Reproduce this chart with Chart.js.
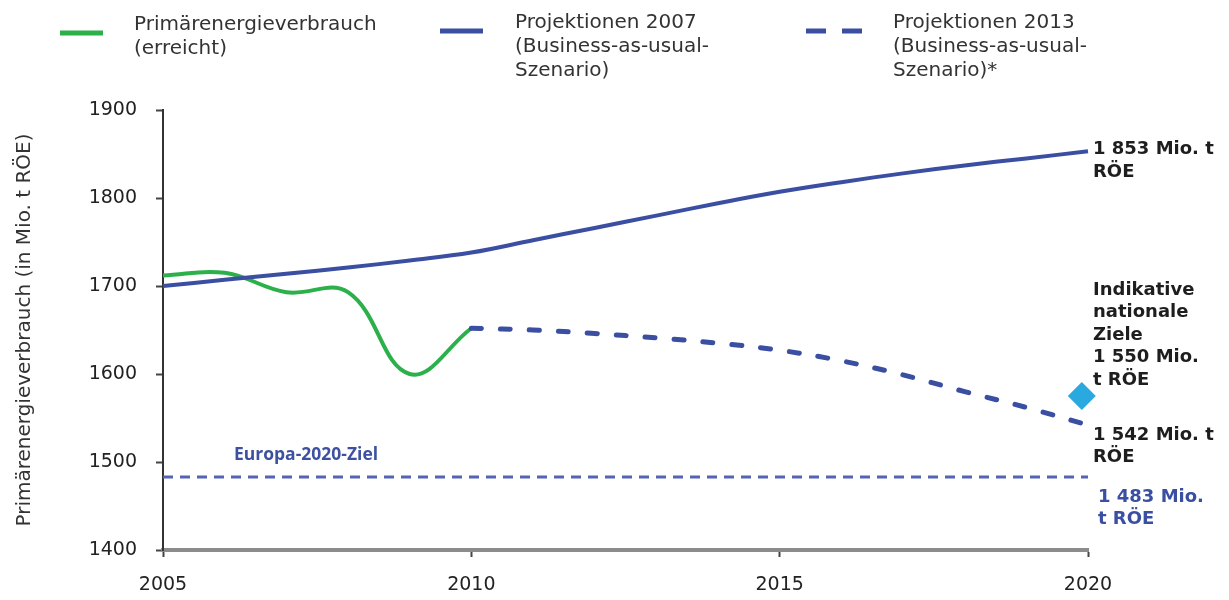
<!DOCTYPE html>
<html><head><meta charset="utf-8">
<script src="https://cdn.jsdelivr.net/npm/chart.js@4.4.1/dist/chart.umd.min.js"></script>
<style>html,body{margin:0;padding:0;background:#fff;} #wrap{width:1229px;height:600px;position:relative;}</style>
</head><body><div id="wrap"><canvas id="c" width="1229" height="600"></canvas></div>
<script>
// ---- data ----
const consumptionYears = [2005, 2006, 2007, 2008, 2009, 2010];
const consumption = [1712, 1715, 1693, 1693, 1600, 1652];
const projection2007Years = [2005, 2006, 2007, 2008, 2009, 2010, 2011, 2012, 2013, 2014, 2015, 2016, 2017, 2018, 2019, 2020];
const projection2007 = [1700, 1707, 1714, 1721, 1729, 1738, 1752, 1766, 1780, 1794, 1807, 1818, 1828, 1837, 1845, 1853];
const projection2013Years = [2010, 2011, 2012, 2013, 2014, 2015, 2016, 2017, 2018, 2019, 2020];
const projection2013 = [1652, 1650, 1646, 1641, 1635, 1627, 1615, 1599, 1580, 1562, 1542];
const europeTargetYears = [2005, 2020];
const europeTarget = [1483, 1483];
const nationalTargetYears = [2019.9];
const nationalTarget = [1575];
const xTicks = [2005, 2010, 2015, 2020];
const yTicks = [1400, 1500, 1600, 1700, 1800, 1900];

const legendItems = [
  ['Primärenergieverbrauch', '(erreicht)'],
  ['Projektionen 2007', '(Business-as-usual-', 'Szenario)'],
  ['Projektionen 2013', '(Business-as-usual-', 'Szenario)*']
];
const yTitle = 'Primärenergieverbrauch (in Mio. t RÖE)';
const europeLabel = 'Europa-2020-Ziel';
const labelBau2007 = ['1 853 Mio. t', 'RÖE'];
const labelNational = ['Indikative', 'nationale', 'Ziele', '1 550 Mio.', 't RÖE'];
const labelBau2013 = ['1 542 Mio. t', 'RÖE'];
const labelEurope = ['1 483 Mio.', 't RÖE'];

const GREEN = '#2bb04a', BLUE = '#3a4ea2', LBLUE = '#5563b6', DIAMOND = '#2aa9e0';
const pts = (xs, ys) => xs.map((x, i) => ({x: x, y: ys[i]}));

const annot = {
  id: 'annot',
  afterDatasetsDraw(chart) {
    const ctx = chart.ctx, xs = chart.scales.x, ys = chart.scales.y;
    ctx.save();
    ctx.textBaseline = 'middle';
    ctx.textAlign = 'left';
    // legend
    ctx.lineWidth = 5;
    ctx.strokeStyle = GREEN;
    ctx.beginPath(); ctx.moveTo(60, 33); ctx.lineTo(103, 33); ctx.stroke();
    ctx.strokeStyle = BLUE;
    ctx.beginPath(); ctx.moveTo(440, 31); ctx.lineTo(483, 31); ctx.stroke();
    ctx.beginPath(); ctx.moveTo(806, 31); ctx.lineTo(826, 31); ctx.moveTo(842, 31); ctx.lineTo(862, 31); ctx.stroke();
    ctx.fillStyle = '#333';
    ctx.font = '20px "DejaVu Sans"';
    const lx = [134, 515, 893], ly = [25, 23, 23];
    legendItems.forEach((lines, k) => lines.forEach((t, j) => ctx.fillText(t, lx[k], ly[k] + j * 24)));
    // end labels
    const x0 = xs.getPixelForValue(2020) + 5;
    ctx.font = 'bold 18px "DejaVu Sans"';
    ctx.fillStyle = '#1e1e1e';
    const block = (lines, y, x) => lines.forEach((t, j) => ctx.fillText(t, x, y + j * 22.5));
    block(labelBau2007, ys.getPixelForValue(projection2007[projection2007.length - 1]) - 2, x0);
    block(labelNational, ys.getPixelForValue(nationalTarget[0]) - 106, x0);
    block(labelBau2013, ys.getPixelForValue(projection2013[projection2013.length - 1]) + 10, x0);
    ctx.fillStyle = '#3a4ea2';
    block(labelEurope, ys.getPixelForValue(europeTarget[0]) + 20, x0 + 5);
    // Europa label
    ctx.font = 'bold 17.5px "Open Sans"';
    ctx.fillStyle = '#3d51a0';
    ctx.fillText(europeLabel, xs.getPixelForValue(2006.15), ys.getPixelForValue(europeTarget[0]) - 22);
    ctx.restore();
  }
};

new Chart(document.getElementById('c'), {
  type: 'line',
  data: {
    datasets: [
      {data: pts(europeTargetYears, europeTarget), borderColor: LBLUE, borderWidth: 3, borderDash: [10, 7], pointRadius: 0, tension: 0},
      {data: pts(projection2013Years, projection2013), borderColor: BLUE, borderWidth: 5, borderDash: [10, 19], borderCapStyle: 'round', pointRadius: 0, tension: 0.4},
      {data: pts(projection2007Years, projection2007), borderColor: BLUE, borderWidth: 4, pointRadius: 0, tension: 0.4},
      {data: pts(consumptionYears, consumption), borderColor: GREEN, borderWidth: 4, pointRadius: 0, tension: 0.4},
      {data: pts(nationalTargetYears, nationalTarget), showLine: false, pointStyle: 'rectRot', pointRadius: 14, pointBackgroundColor: DIAMOND, pointBorderWidth: 0, pointBorderColor: DIAMOND}
    ]
  },
  options: {
    responsive: false,
    animation: false,
    devicePixelRatio: 1,
    layout: {padding: {top: 110, right: 141, left: 0, bottom: 0}},
    plugins: {legend: {display: false}, tooltip: {enabled: false}},
    elements: {line: {borderJoinStyle: 'round'}},
    clip: false,
    scales: {
      x: {
        type: 'linear', min: 2005, max: 2020,
        afterBuildTicks: s => { s.ticks = xTicks.map(v => ({value: v})); },
        afterFit: s => { s.height = 50; },
        border: {color: '#8c8c8c', width: 4},
        grid: {drawOnChartArea: false, drawTicks: true, tickLength: 7, tickColor: '#444', tickWidth: 2},
        ticks: {padding: 17, color: '#222', font: {family: 'DejaVu Sans', size: 19}, callback: v => String(v), maxRotation: 0}
      },
      y: {
        min: 1400, max: 1900,
        afterBuildTicks: s => { s.ticks = yTicks.map(v => ({value: v})); },
        afterFit: s => { s.width = 163; },
        border: {color: '#333', width: 2},
        grid: {drawOnChartArea: false, drawTicks: true, tickLength: 7, tickColor: '#444', tickWidth: 2},
        ticks: {padding: 19, color: '#222', font: {family: 'DejaVu Sans', size: 19}, callback: v => String(v)},
        title: {display: true, text: yTitle, color: '#333', font: {family: 'DejaVu Sans', size: 20}, padding: {top: 13, bottom: 0}}
      }
    }
  },
  plugins: [annot]
});
</script></body></html>
